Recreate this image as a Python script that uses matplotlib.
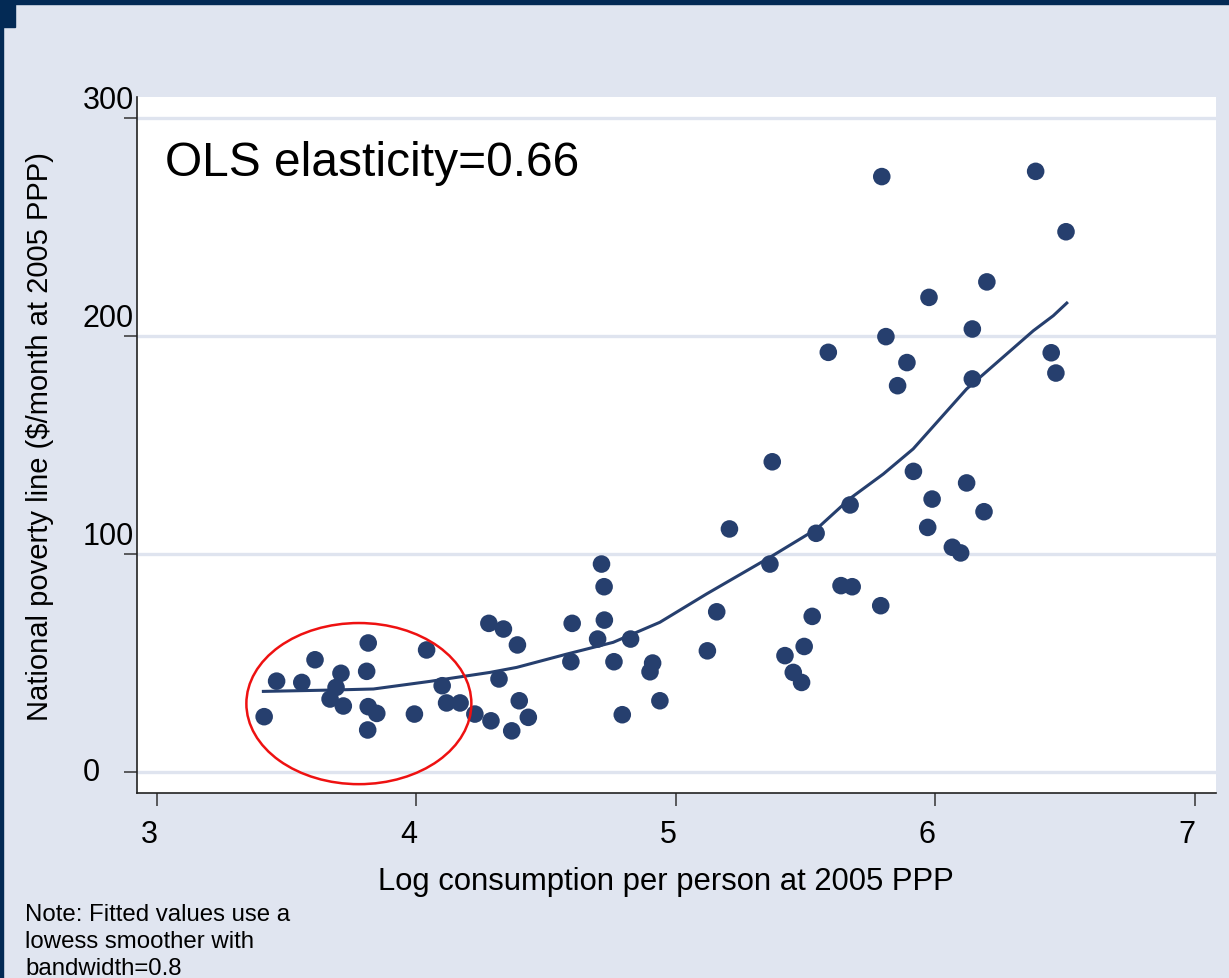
import matplotlib
matplotlib.use("Agg")
import matplotlib.pyplot as plt
from matplotlib.patches import Ellipse, Rectangle
import matplotlib.transforms as mtransforms

plt.rcParams['font.family'] = ['Liberation Sans', 'DejaVu Sans']

# ---- data ----
log_consumption = [
    3.413, 3.461, 3.558, 3.609, 3.709, 3.690, 3.667, 3.718, 3.814, 3.808,
    3.814, 3.847, 3.812, 3.992, 4.039, 4.099, 4.116, 4.168, 4.225,
    4.287, 4.367, 4.431, 4.396, 4.318, 4.279, 4.335, 4.389, 4.600, 4.595,
    4.713, 4.723, 4.724, 4.698, 4.761, 4.825, 4.793, 4.910, 4.900, 4.938,
    5.121, 5.157,
    5.371, 5.206, 5.671, 5.540, 5.362, 5.636, 5.679, 5.789, 5.525, 5.494,
    5.420, 5.452, 5.484,
    5.793, 6.386, 6.503, 6.198, 5.975, 6.142, 5.809, 5.890, 5.854, 6.142,
    6.446, 6.464, 5.587,
    5.915, 6.120, 5.987, 6.187, 5.970, 6.065, 6.097,
]
poverty_line = [
    25.4, 41.7, 41.1, 51.5, 45.3, 38.8, 33.5, 30.3, 59.2, 46.2,
    30.0, 26.9, 19.3, 26.6, 56.0, 39.6, 31.7, 31.7, 26.6,
    23.5, 18.9, 25.1, 32.7, 42.7, 68.2, 65.6, 58.3, 68.2, 50.6,
    95.4, 85.0, 69.7, 61.0, 50.6, 61.0, 26.3, 50.0, 46.0, 32.7,
    55.6, 73.5,
    142.3, 111.5, 122.5, 109.5, 95.4, 85.5, 85.0, 76.3, 71.4, 57.6,
    53.4, 45.7, 41.1,
    273.1, 275.5, 247.8, 224.8, 217.7, 203.2, 199.7, 187.8, 177.2, 180.3,
    192.3, 183.0, 192.5,
    137.9, 132.6, 125.2, 119.4, 112.2, 103.1, 100.5,
]

# lowess fitted line
fit_x = [3.410, 3.667, 3.834, 4.052, 4.283, 4.386, 4.579, 4.758, 4.938, 5.118,
         5.362, 5.542, 5.671, 5.799, 5.914, 6.120, 6.377, 6.454, 6.506]
fit_y = [37.0, 37.6, 38.1, 41.6, 45.7, 48.0, 54.1, 59.5, 68.7, 81.7,
         98.5, 111.5, 125.5, 136.7, 148.2, 175.7, 202.4, 209.3, 215.1]

x_ticks = [3, 4, 5, 6, 7]
x_tick_labels = ["3", "4", "5", "6", "7"]
y_ticks = [0, 100, 200, 300]
y_tick_labels = ["0", "100", "200", "300"]

title_text = "OLS elasticity=0.66"
x_label = "Log consumption per person at 2005 PPP"
y_label = "National poverty line (\\$/month at 2005 PPP)"
note_text = "Note: Fitted values use a\nlowess smoother with\nbandwidth=0.8"

# highlighted region (ellipse) in data coords
ellipse_center = (3.778, 31.4)
ellipse_size = (0.867, 73.9)

# ---- style ----
BG = "#e0e5f0"
NAVY = "#032a55"
DOT = "#263f6e"
GRID = "#dfe4ef"

W, H = 1229, 979
fig = plt.figure(figsize=(W / 100, H / 100), dpi=100, facecolor=BG)

# dark border (top band, left band, corner block)
fig.patches.append(Rectangle((0, 1 - 5 / H), 1, 5 / H, transform=fig.transFigure,
                             color=NAVY, zorder=0))
fig.patches.append(Rectangle((0, 0), 3 / W, 1, transform=fig.transFigure,
                             color=NAVY, zorder=0))
fig.patches.append(Rectangle((0, 1 - 28 / H), 15 / W, 28 / H, transform=fig.transFigure,
                             color=NAVY, zorder=0))

ax = fig.add_axes([137 / W, 1 - 794 / H, (1216 - 137) / W, (794 - 98) / H])
ax.set_facecolor("white")
ax.set_xlim(2.923, 7.081)
ax.set_ylim(-9.6, 309.6)

for s in ["top", "right"]:
    ax.spines[s].set_visible(False)
for s in ["left", "bottom"]:
    ax.spines[s].set_color("#222222")
    ax.spines[s].set_linewidth(1.2)

ax.set_yticks(y_ticks)
ax.set_yticklabels([])
ax.set_xticks(x_ticks)
ax.set_xticklabels(x_tick_labels, fontsize=22)
ax.tick_params(axis="both", length=9.5, width=1.1, color="#333333")
ax.tick_params(axis="x", pad=9)
offset = mtransforms.ScaledTranslation(-8 / 100, 0, fig.dpi_scale_trans)
for lbl in ax.get_xticklabels():
    lbl.set_transform(lbl.get_transform() + offset)

# y tick labels placed as in the reference (left aligned, raised above the tick)
ytrans = mtransforms.blended_transform_factory(fig.transFigure, ax.transData)
for val, lab in zip(y_ticks, y_tick_labels):
    dy = 0 if val == 0 else 18
    t = ytrans + mtransforms.ScaledTranslation(0, dy / 100, fig.dpi_scale_trans)
    ax.text(83 / W, val, lab, transform=t, ha="left", va="center",
            fontsize=22, clip_on=False)

for v in y_ticks:
    ax.axhline(v, color=GRID, lw=2.4, zorder=1)

ax.plot(fit_x, fit_y, color=DOT, lw=2.2, zorder=3)
ax.scatter(log_consumption, poverty_line, s=160, color=DOT, edgecolors="none", zorder=4)

ell = Ellipse(ellipse_center, ellipse_size[0], ellipse_size[1], fill=False,
              edgecolor="#ee1111", lw=1.8, zorder=5)
ax.add_patch(ell)

fig.text(165 / W, 1 - 176 / H, title_text, fontsize=34.5, ha="left", va="baseline")
fig.text(666 / W, 1 - 890 / H, x_label, fontsize=22.3, ha="center", va="baseline")
fig.text(40 / W, 1 - 437 / H, y_label, fontsize=21, ha="center", va="center",
         rotation=90)
fig.text(25 / W, 1 - 975 / H, note_text, fontsize=17.3, ha="left", va="baseline",
         linespacing=1.28)

fig.savefig("out.png", dpi=100, facecolor=BG)
